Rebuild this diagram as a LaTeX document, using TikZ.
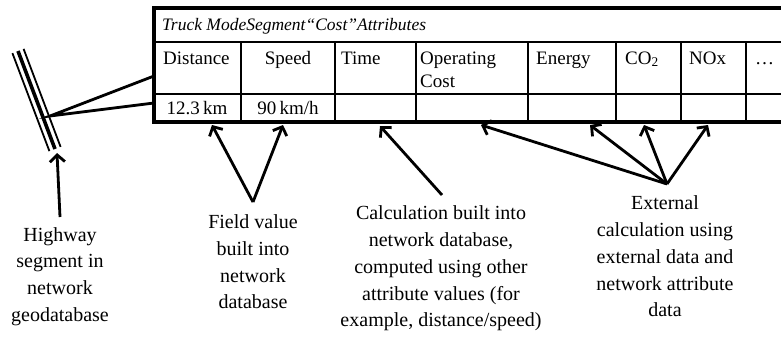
\documentclass[tikz,border=0pt]{standalone}
\usepackage{fontspec}
\setmainfont{Liberation Serif}
\usetikzlibrary{arrows.meta}
\begin{document}
\begin{tikzpicture}[x=1pt,y=-1pt,
  conn/.style={line width=2.8pt},
  arr/.style={conn,-{Straight Barb[length=7pt,width=15pt]}},
  lbl/.style={align=center,font=\fontsize{20}{26.7}\selectfont,inner sep=0pt},
  cell/.style={anchor=base west,font=\fontsize{19}{22}\selectfont,inner sep=0pt},
  ccell/.style={anchor=base,font=\fontsize{19}{22}\selectfont,inner sep=0pt},
  thinrule/.style={line width=1.6pt},
  thickrule/.style={line width=3.5pt},
  roadedge/.style={line width=1.8pt},
  roadmid/.style={line width=3.6pt}]
\useasboundingbox (0,0) rectangle (781,337);

% ---- table ----
\draw[thinrule] (154,42) -- (781,42);
\draw[thinrule] (154,94) -- (781,94);
\foreach \cx in {241,335,416,528,616,681,746}
  \draw[thinrule] (\cx,42) -- (\cx,122);
\draw[thickrule] (781,8) -- (154,8) -- (154,122) -- (781,122);

\node[cell,font=\fontsize{17.5}{20}\selectfont] (title) at (162,31) {\itshape Truck ModeSegment“Cost”Attributes};
\node[cell] (hdist) at (163,64) {Distance};
\node[ccell] (hspeed) at (288,64) {Speed};
\node[cell] (htime) at (341,64) {Time};
\node[cell] (hop) at (420,64) {Operating};
\node[cell] (hcost) at (420,87) {Cost};
\node[cell] (hen) at (536,64) {Energy};
\node[cell] (hco) at (625,64) {CO\textsubscript{2}};
\node[cell] (hnox) at (689,64) {NOx};
\node[cell] (hmore) at (755,64) {\ldots};
\node[ccell] (vdist) at (197,114) {12.3\,km};
\node[ccell] (vspeed) at (288,114) {90\,km/h};

% ---- road ----
\draw[roadedge] (12.4,53.1) -- (49.4,151.1);
\draw[roadmid] (18,51) -- (55,149);
\draw[roadedge] (23.6,48.9) -- (60.6,146.9);
\coordinate (junc) at (50,116);
\coordinate (tabA) at (154,76);
\coordinate (tabB) at (154,103);
\draw[conn] (tabA) -- (junc) -- (tabB);

% ---- labels ----
\node[lbl] (hw) at (60,276.5) {Highway\\segment in\\network\\geodatabase};
\node[lbl] (fv) at (253,262) {Field value\\built into\\network\\database};
\node[lbl] (calc) at (441,268.5) {Calculation built into\\network database,\\computed using other\\attribute values (for\\example, distance/speed)};
\node[lbl] (ext) at (665,256.5) {External\\calculation using\\external data and\\network attribute\\data};

% ---- arrow anchors ----
\coordinate (hwtail) at (60,217);
\coordinate (hwtip) at (57,153);
\coordinate (fvv) at (253,202);
\coordinate (tipdist) at (212,125);
\coordinate (tipspeed) at (283,125);
\coordinate (calctail) at (442,195);
\coordinate (tipcalc) at (380,126);
\coordinate (extj) at (667,184);
\coordinate (tipop) at (481,125);
\coordinate (tipen) at (590,125);
\coordinate (tipco) at (644,125);
\coordinate (tipnox) at (708,125);

\draw[arr] (hwtail) -- (hwtip);
\draw[arr] (fvv) -- (tipdist);
\draw[arr] (fvv) -- (tipspeed);
\draw[arr] (calctail) -- (tipcalc);
\foreach \t in {tipop,tipen,tipco,tipnox}
  \draw[arr] (extj) -- (\t);
\end{tikzpicture}
\end{document}
